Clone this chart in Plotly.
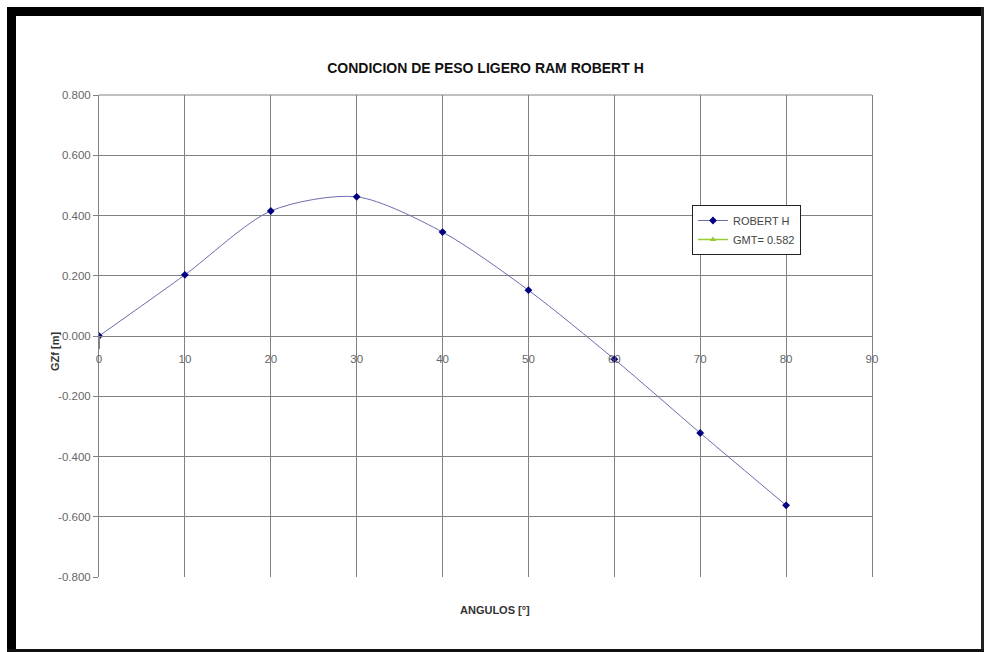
import plotly.graph_objects as go

# Datos
angulos = [0, 10, 20, 30, 40, 50, 60, 70, 80]
gz_robert = [0.000, 0.203, 0.415, 0.462, 0.345, 0.152, -0.077, -0.322, -0.562]
y_ticks = [-0.8, -0.6, -0.4, -0.2, 0.0, 0.2, 0.4, 0.6, 0.8]
x_ticks = [0, 10, 20, 30, 40, 50, 60, 70, 80, 90]

W, H = 984, 652
L, R, T, B = 99, 112, 95, 75

fig = go.Figure()

fig.add_trace(go.Scatter(
    x=angulos, y=gz_robert,
    mode="lines+markers",
    line=dict(color="#6b6bb0", width=1, shape="spline", smoothing=0.8),
    marker=dict(symbol="diamond", size=6, color="#000080"),
    name="ROBERT H",
))

# serie GMT: solo aparece en la leyenda
fig.add_trace(go.Scatter(
    x=[None], y=[None],
    mode="lines+markers",
    line=dict(color="#99cc33", width=1.5),
    marker=dict(symbol="triangle-up", size=6, color="#99cc33"),
    name="GMT= 0.582",
))

grid = "#808080"
tick_font = dict(family="Liberation Sans, Arial", size=11.5, color="#666666")

fig.update_layout(
    width=W, height=H,
    margin=dict(l=L, r=R, t=T, b=B),
    paper_bgcolor="white",
    plot_bgcolor="white",
    title=dict(
        text="<b>CONDICION DE PESO LIGERO RAM ROBERT H</b>",
        font=dict(family="Liberation Sans, Arial", size=14, color="#111111"),
        x=(L + (W - R)) / 2 / W, xanchor="center",
        y=1 - 68 / H, yanchor="middle",
    ),
    xaxis=dict(
        range=[0, 90], tickvals=x_ticks,
        showgrid=True, gridcolor=grid, gridwidth=1,
        zeroline=False,
        showline=True, linecolor=grid, linewidth=1,
        anchor="free", position=0.5,
        ticks="outside", ticklen=12, tickcolor=grid,
        tickfont=tick_font,
    ),
    yaxis=dict(
        range=[-0.8, 0.8], tickvals=y_ticks,
        ticktext=["%.3f" % v for v in y_ticks],
        showgrid=True, gridcolor=grid, gridwidth=1,
        zeroline=False,
        showline=True, linecolor=grid, linewidth=1, mirror=True,
        ticks="outside", ticklen=5, tickcolor=grid,
        tickfont=tick_font,
    ),
    legend=dict(
        x=(692 - L) / (W - L - R), y=1 - (205 - T) / (H - T - B),
        xanchor="left", yanchor="top",
        bgcolor="white", bordercolor="#222222", borderwidth=1,
        font=dict(family="Liberation Sans, Arial", size=11, color="#444444"),
        tracegroupgap=0, itemwidth=30,
    ),
    showlegend=True,
)

# borde superior (espejo del eje x)
fig.add_shape(type="line", xref="paper", yref="paper", x0=0, x1=1, y0=1, y1=1,
              line=dict(color=grid, width=1))

pw, ph = W - L - R, H - T - B


def px(x):
    return (x - L) / pw


def py(y):
    return 1 - (y - T) / ph


# marco negro del gráfico
fig.add_shape(type="rect", xref="paper", yref="paper",
              x0=px(7), x1=px(16), y0=py(7), y1=py(H), fillcolor="black", line_width=0)
fig.add_shape(type="rect", xref="paper", yref="paper",
              x0=px(7), x1=px(984), y0=py(7), y1=py(16), fillcolor="black", line_width=0)
fig.add_shape(type="rect", xref="paper", yref="paper",
              x0=px(981), x1=px(984), y0=py(7), y1=py(H), fillcolor="#222222", line_width=0)
fig.add_shape(type="rect", xref="paper", yref="paper",
              x0=px(7), x1=px(984), y0=py(649), y1=py(H), fillcolor="#111111", line_width=0)

fig.add_annotation(
    text="<b>ANGULOS [°]</b>", xref="paper", yref="paper",
    x=px(495), y=py(618), showarrow=False,
    font=dict(family="Liberation Sans, Arial", size=11, color="#333333"),
)
fig.add_annotation(
    text="<b>GZf [m]</b>", xref="paper", yref="paper",
    x=px(47), y=py(352), showarrow=False, textangle=-90,
    font=dict(family="Liberation Sans, Arial", size=11, color="#333333"),
)

fig.write_html("out.html", config={"displayModeBar": False},
               post_script="document.body.style.margin='0';document.body.style.overflow='hidden';")
